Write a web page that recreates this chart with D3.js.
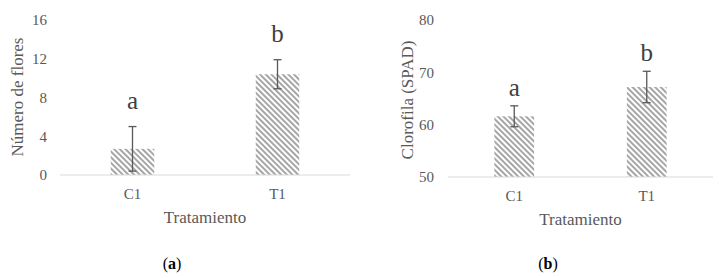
<!DOCTYPE html>
<html>
<head>
<meta charset="utf-8">
<script src="https://cdn.jsdelivr.net/npm/d3@7"></script>
<style>
  body { margin: 0; background: #fff; }
  text { font-family: "Liberation Serif", "Times New Roman", serif; }
</style>
</head>
<body>
<div id="chart"></div>
<script>
// Data
var categories = ["C1", "T1"];
var flores = [2.7, 10.4];
var floresErr = [2.3, 1.5];
var floresLetters = ["a", "b"];
var floresTicks = [0, 4, 8, 12, 16];

var clorofila = [61.6, 67.2];
var clorofilaErr = [2.0, 3.0];
var clorofilaLetters = ["a", "b"];
var clorofilaTicks = [50, 60, 70, 80];

var svg = d3.select("#chart")
    .append("svg")
    .attr("width", 719)
    .attr("height", 278);

// hatch pattern for bars (lines running top-left to bottom-right)
var pat = svg.append("defs").append("pattern")
    .attr("id", "hatch")
    .attr("patternUnits", "userSpaceOnUse")
    .attr("width", 4)
    .attr("height", 4)
    .attr("patternTransform", "rotate(45)");
pat.append("rect").attr("width", 4).attr("height", 4).attr("fill", "#fff");
pat.append("rect").attr("width", 4).attr("height", 2).attr("fill", "#a6a6a6");

function drawPanel(opt) {
    var g = svg.append("g").attr("transform", "translate(" + opt.left + "," + opt.top + ")");

    var x = d3.scaleBand().domain(categories).range([0, opt.width]).paddingInner(0.7).paddingOuter(0.35);
    var y = d3.scaleLinear().domain(opt.domain).range([opt.height, 0]);

    // y axis (labels only)
    var yAxis = g.append("g")
        .call(d3.axisLeft(y).tickValues(opt.ticks).tickSize(0).tickPadding(opt.tickPad));
    yAxis.select(".domain").remove();
    yAxis.selectAll("text").style("font-size", "15px").attr("fill", "#595959")
        .attr("font-family", "Liberation Serif, serif");

    // bars
    g.selectAll("rect.bar")
        .data(opt.values)
        .enter()
        .append("rect")
        .attr("class", "bar")
        .attr("x", function(d, i) { return x(categories[i]); })
        .attr("width", x.bandwidth())
        .attr("y", function(d) { return y(d); })
        .attr("height", function(d) { return opt.height - y(d); })
        .attr("fill", "url(#hatch)");

    // x axis line
    g.append("line")
        .attr("x1", 0).attr("x2", opt.width)
        .attr("y1", opt.height).attr("y2", opt.height)
        .attr("stroke", "#d9d9d9").attr("stroke-width", 1);

    // error bars
    var eb = g.selectAll("g.err")
        .data(opt.values)
        .enter()
        .append("g")
        .attr("class", "err")
        .attr("transform", function(d, i) { return "translate(" + (x(categories[i]) + x.bandwidth() / 2) + ",0)"; });
    eb.append("line")
        .attr("y1", function(d, i) { return y(d + opt.err[i]); })
        .attr("y2", function(d, i) { return y(d - opt.err[i]); })
        .attr("stroke", "#595959").attr("stroke-width", 1.3);
    eb.append("line")
        .attr("x1", -4).attr("x2", 4)
        .attr("y1", function(d, i) { return y(d + opt.err[i]); })
        .attr("y2", function(d, i) { return y(d + opt.err[i]); })
        .attr("stroke", "#595959").attr("stroke-width", 1.3);
    eb.append("line")
        .attr("x1", -4).attr("x2", 4)
        .attr("y1", function(d, i) { return y(d - opt.err[i]); })
        .attr("y2", function(d, i) { return y(d - opt.err[i]); })
        .attr("stroke", "#595959").attr("stroke-width", 1.3);

    // significance letters
    eb.append("text")
        .attr("y", function(d, i) { return y(d + opt.err[i]) - opt.letterGap; })
        .attr("text-anchor", "middle")
        .style("font-size", "25px")
        .attr("fill", "#404040")
        .text(function(d, i) { return opt.letters[i]; });

    // category labels
    g.selectAll("text.cat")
        .data(categories)
        .enter()
        .append("text")
        .attr("class", "cat")
        .attr("x", function(d) { return x(d) + x.bandwidth() / 2; })
        .attr("y", opt.height + 24)
        .attr("text-anchor", "middle")
        .style("font-size", "15px")
        .attr("fill", "#595959")
        .text(function(d) { return d; });

    // axis titles
    g.append("text")
        .attr("x", opt.width / 2)
        .attr("y", opt.height + 48)
        .attr("text-anchor", "middle")
        .style("font-size", "17px")
        .attr("fill", "#595959")
        .text("Tratamiento");

    g.append("text")
        .attr("transform", "rotate(-90)")
        .attr("x", -opt.height / 2 + opt.titleShift)
        .attr("y", opt.titleX)
        .attr("text-anchor", "middle")
        .style("font-size", "17px")
        .attr("fill", "#595959")
        .text(opt.title);

    // panel caption
    var cap = svg.append("text")
        .attr("x", opt.capX)
        .attr("y", 269)
        .attr("text-anchor", "middle")
        .style("font-size", "16px")
        .attr("fill", "#000");
    cap.append("tspan").text("(");
    cap.append("tspan").attr("font-weight", "bold").text(opt.cap);
    cap.append("tspan").text(")");
}

drawPanel({
    left: 60, top: 20, width: 290, height: 155,
    domain: [0, 16], ticks: floresTicks,
    values: flores, err: floresErr, letters: floresLetters,
    tickPad: 13, letterGap: 18, title: "Número de flores", titleX: -37, titleShift: 0.5,
    cap: "a", capX: 172
});

drawPanel({
    left: 448, top: 20, width: 265, height: 157,
    domain: [50, 80], ticks: clorofilaTicks,
    values: clorofila, err: clorofilaErr, letters: clorofilaLetters,
    tickPad: 14, letterGap: 10, title: "Clorofila (SPAD)", titleX: -35, titleShift: -1.5,
    cap: "b", capX: 548
});
</script>
</body>
</html>
